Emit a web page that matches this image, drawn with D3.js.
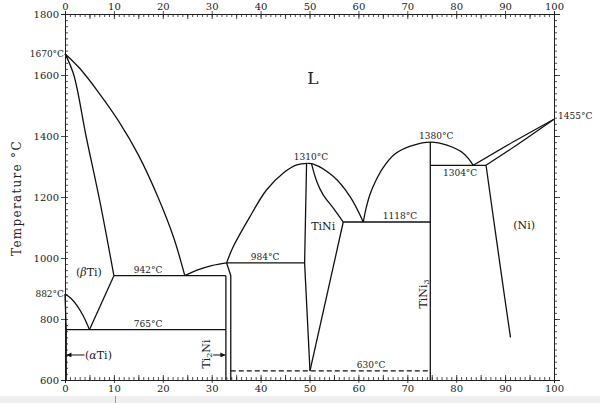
<!DOCTYPE html>
<html><head><meta charset="utf-8">
<script src="https://cdn.jsdelivr.net/npm/d3@7"></script>
<style>
html,body{margin:0;padding:0;background:#fff;}
svg{display:block;}
text{font-family:"DejaVu Serif","Liberation Serif",serif;fill:#222;}
</style></head>
<body><svg id="c" width="600" height="403"></svg>
<script>
// ---- data (composition at.% Ni, temperature °C) ----
const xTickLabels = [0,10,20,30,40,50,60,70,80,90,100];
const yTickLabels = [600,800,1000,1200,1400,1600,1800];

const liquidusTi   = [[0,1670],[3,1622],[7,1540],[11,1448],[15,1338],[19,1200],[22.2,1068],[24.5,942]];
const solidusTi    = [[0,1670],[1.8,1600],[4.3,1400],[7.2,1180],[10,942]];
const betaTransus  = [[0,882],[1.2,868],[2.5,843],[3.8,808],[5,765]];
const betaSolvus   = [[5,765],[10,942]];
const alphaTi      = [[0,882],[0.25,765],[0.25,600]];
const liquidusTi2Ni= [[24.5,942],[27,960],[30,975],[33.05,984]];
const liquidusTiNiL= [[33.05,984],[34.4,1037],[37.8,1135],[41.2,1223],[44.6,1278],[47.4,1305],[49.6,1310]];
const liquidusTiNiR= [[49.6,1310],[50.8,1308],[54.9,1267],[58.3,1201],[61,1118]];
const solidusTiNiR = [[50.4,1310],[51.5,1250],[52.8,1207],[54.9,1163],[56.9,1118]];
const tiNiLeft     = [[49.4,1310],[49.0,984],[50.1,630]];
const tiNiRight    = [[56.9,1118],[50.1,630]];
const ti2NiLeft    = [[32.9,942],[32.9,600]];
const ti2NiRight   = [[33.05,984],[33.9,942],[33.9,600]];
const liquidusTiNi3= [[61,1118],[61.6,1165],[62.4,1210],[63.6,1255],[65,1295],[67.4,1340],[70.5,1366],[74.8,1380],[78.1,1370],[81.5,1343],[83.5,1304]];
const tiNi3Line    = [[74.7,1380],[74.7,600]];
const liquidusNi   = [[83.5,1304],[91.7,1381],[100,1455]];
const solidusNi    = [[86.1,1304],[91.7,1363],[100,1455]];
const solvusNi     = [[86.1,1304],[89.4,928],[91.1,740]];
const isotherms = [
  {T:942, x0:10, x1:32.9},
  {T:765, x0:0.25, x1:32.9},
  {T:984, x0:33.05, x1:49.0},
  {T:1118, x0:56.9, x1:74.7},
  {T:1304, x0:74.7, x1:86.1}
];
const dashedIsotherm = {T:630, x0:33.9, x1:74.7};

const tempLabels = [
  {t:"942°C",  x:17,   T:942,  pos:"above"},
  {t:"765°C",  x:17,   T:765,  pos:"above"},
  {t:"984°C",  x:40.9, T:984,  pos:"above"},
  {t:"1310°C", x:50.3, T:1310, pos:"above"},
  {t:"1118°C", x:68.5, T:1118, pos:"above"},
  {t:"1380°C", x:75.9, T:1380, pos:"above"},
  {t:"1304°C", x:80.8, T:1304, pos:"below"},
  {t:"630°C",  x:62.6, T:630,  pos:"above"}
];
const axisTempLabels = [{t:"1670°C",T:1670},{t:"882°C",T:882}];

// ---- drawing ----
const svg = d3.select("#c");
const x = d3.scaleLinear().domain([0,100]).range([65,554]);
const y = d3.scaleLinear().domain([600,1800]).range([380,14]);

// bottom gray band (page artifact)
svg.append("rect").attr("x",0).attr("y",396).attr("width",600).attr("height",7).attr("fill","#efefef");
svg.append("line").attr("x1",115.5).attr("x2",115.5).attr("y1",396).attr("y2",403).attr("stroke","#999").attr("stroke-width",1);

function styleAxis(g){
  g.select(".domain").attr("stroke","#222").attr("stroke-width",1);
  g.selectAll(".tick line").attr("stroke","#222").attr("stroke-width",0.8);
  g.selectAll(".tick text").attr("font-family","DejaVu Serif").attr("font-size",10).attr("fill","#222");
}
const minorX = d3.range(0,101,1), midX = d3.range(0,101,5);
const minorY = d3.range(600,1801,20);

// top
svg.append("g").attr("transform","translate(0,14)").call(d3.axisTop(x).tickValues(minorX).tickSize(-3).tickFormat("")).call(styleAxis);
svg.append("g").attr("transform","translate(0,14)").call(d3.axisTop(x).tickValues(midX).tickSize(-5).tickFormat("")).call(styleAxis);
svg.append("g").attr("transform","translate(0,14)").call(d3.axisTop(x).tickValues(xTickLabels).tickSize(3).tickPadding(1).tickFormat(d3.format("d"))).call(styleAxis);
// bottom
svg.append("g").attr("transform","translate(0,380)").call(d3.axisBottom(x).tickValues(minorX).tickSize(-3).tickFormat("")).call(styleAxis);
svg.append("g").attr("transform","translate(0,380)").call(d3.axisBottom(x).tickValues(midX).tickSize(-5).tickFormat("")).call(styleAxis);
svg.append("g").attr("transform","translate(0,380)").call(d3.axisBottom(x).tickValues(xTickLabels).tickSize(3).tickPadding(2).tickFormat(d3.format("d"))).call(styleAxis);
// left
svg.append("g").attr("transform","translate(65,0)").call(d3.axisLeft(y).tickValues(minorY).tickSize(-3).tickFormat("")).call(styleAxis);
svg.append("g").attr("transform","translate(65,0)").call(d3.axisLeft(y).tickValues(yTickLabels).tickSize(4).tickPadding(2).tickFormat(d3.format("d"))).call(styleAxis);
// right
svg.append("g").attr("transform","translate(554,0)").call(d3.axisRight(y).tickValues(minorY).tickSize(3).tickFormat("")).call(styleAxis);
svg.append("g").attr("transform","translate(554,0)").call(d3.axisRight(y).tickValues(yTickLabels).tickSize(6).tickFormat("")).call(styleAxis);

// axis title
svg.append("text").attr("transform","translate(21,198) rotate(-90)")
  .attr("text-anchor","middle").attr("font-size",12).attr("letter-spacing",1.3)
  .text("Temperature °C");

// curves
const smooth = d3.line().x(d=>x(d[0])).y(d=>y(d[1])).curve(d3.curveCatmullRom.alpha(0.5));
const straight = d3.line().x(d=>x(d[0])).y(d=>y(d[1]));
const plot = svg.append("g").attr("fill","none").attr("stroke","#111").attr("stroke-width",1.3);
[liquidusTi,solidusTi,betaTransus,liquidusTi2Ni,liquidusTiNiL,liquidusTiNiR,solidusTiNiR,liquidusTiNi3,liquidusNi,solidusNi,solvusNi]
  .forEach(c=>plot.append("path").attr("d",smooth(c)));
[betaSolvus,alphaTi,tiNiLeft,tiNiRight,ti2NiLeft,ti2NiRight,tiNi3Line]
  .forEach(c=>plot.append("path").attr("d",straight(c)));
isotherms.forEach(h=>plot.append("path").attr("d",straight([[h.x0,h.T],[h.x1,h.T]])));
plot.append("path").attr("d",straight([[dashedIsotherm.x0,dashedIsotherm.T],[dashedIsotherm.x1,dashedIsotherm.T]]))
  .attr("stroke-dasharray","5,3");

// temperature labels
tempLabels.forEach(l=>{
  svg.append("text").attr("x",x(l.x)).attr("y",l.pos==="above"? y(l.T)-3 : y(l.T)+11)
    .attr("text-anchor","middle").attr("font-size",9).text(l.t);
});
axisTempLabels.forEach(l=>{
  svg.append("text").attr("x",x(0)-1).attr("y",y(l.T)+3).attr("text-anchor","end").attr("font-size",9).text(l.t);
});
svg.append("text").attr("x",x(100)+4).attr("y",y(1455)).attr("font-size",9).text("1455°C");

// phase labels
svg.append("text").attr("x",x(50.7)).attr("y",y(1590)).attr("text-anchor","middle").attr("dominant-baseline","central").attr("font-size",17).text("L");
const bt = svg.append("text").attr("x",x(4.9)).attr("y",y(954)).attr("text-anchor","middle").attr("dominant-baseline","central").attr("font-size",11);
bt.append("tspan").text("(");bt.append("tspan").attr("font-style","italic").text("β");bt.append("tspan").text("Ti)");
svg.append("text").attr("x",x(52.8)).attr("y",y(1102)).attr("text-anchor","middle").attr("dominant-baseline","central").attr("font-size",11).text("TiNi");
svg.append("text").attr("x",x(93.9)).attr("y",y(1105)).attr("text-anchor","middle").attr("dominant-baseline","central").attr("font-size",11).text("(Ni)");
// TiNi3 rotated
const t3 = svg.append("text").attr("transform",`translate(${x(73.2)},${y(882)}) rotate(-90)`).attr("text-anchor","middle").attr("dominant-baseline","central").attr("font-size",11);
t3.append("tspan").text("TiNi");t3.append("tspan").attr("font-size",8).attr("dy",3).text("3");
// Ti2Ni rotated
const t2 = svg.append("text").attr("transform",`translate(${x(28.8)},${y(685)}) rotate(-90)`).attr("text-anchor","middle").attr("dominant-baseline","central").attr("font-size",11);
t2.append("tspan").text("Ti");t2.append("tspan").attr("font-size",8).attr("dy",3).text("2");t2.append("tspan").attr("dy",-3).text("Ni");
// alpha Ti
const at = svg.append("text").attr("x",x(4.1)).attr("y",y(682)).attr("dominant-baseline","central").attr("font-size",11);
at.append("tspan").text("(");at.append("tspan").attr("font-style","italic").text("α");at.append("tspan").text("Ti)");

// arrows
const defs = svg.append("defs");
defs.append("marker").attr("id","ah").attr("viewBox","0 0 10 10").attr("refX",10).attr("refY",5)
  .attr("markerWidth",7).attr("markerHeight",5).attr("orient","auto")
  .append("path").attr("d","M0,0L10,5L0,10z").attr("fill","#111");
svg.append("line").attr("x1",x(4.0)).attr("x2",x(0.3)).attr("y1",y(682)).attr("y2",y(682))
  .attr("stroke","#111").attr("stroke-width",1).attr("marker-end","url(#ah)");
svg.append("line").attr("x1",x(30.3)).attr("x2",x(32.8)).attr("y1",y(682)).attr("y2",y(682))
  .attr("stroke","#111").attr("stroke-width",1).attr("marker-end","url(#ah)");
</script></body></html>
